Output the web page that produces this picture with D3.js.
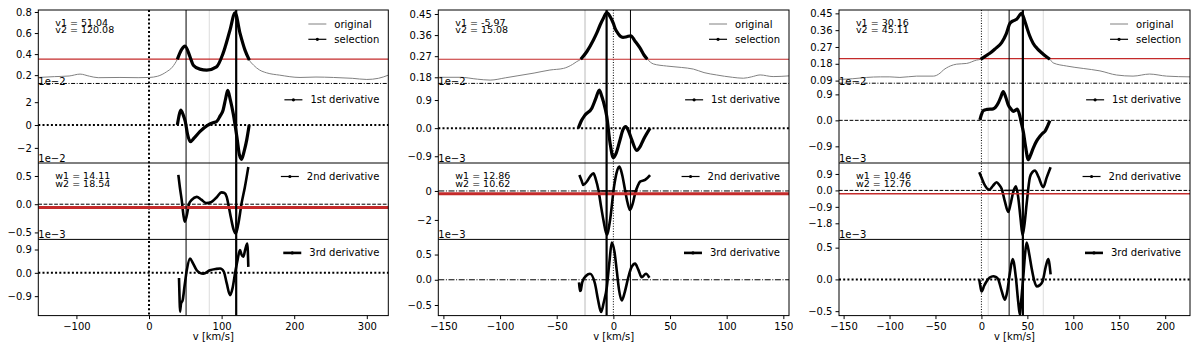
<!DOCTYPE html>
<html lang="en">
<head>
<meta charset="utf-8">
<title>Line derivatives</title>
<script type="text/javascript" src="https://d3js.org/d3.v7.min.js"></script>
<style>
body { margin: 0; background: #fff; }
text { font-family: "DejaVu Sans", sans-serif; fill: #000; }
.tick text { font-size: 10px; }
.domain { display: none; }
.tick line { stroke: #000; }
.legend { font-size: 10px; }
.note { font-size: 9.5px; }
</style>
</head>
<body>
<div id="container"></div>
<script type="text/javascript">
// ---- data (values of derivatives in units of their offset) ----
var p1V1 = 51.04, p1V2 = 120.08, p1W1 = 14.11, p1W2 = 18.54;
var p2V1 = -5.97, p2V2 = 15.08, p2W1 = 12.86, p2W2 = 10.62;
var p3V1 = 30.16, p3V2 = 45.11, p3W1 = 10.46, p3W2 = 12.76;

var p1Original = [[-152.5,0.178],[-130,0.186],[-110,0.192],[-95,0.21],[-82,0.19],[-70,0.176],[-40,0.178],[-15,0.176],[0,0.178],[12,0.19],[24,0.231],[32,0.275],
  [138.2,0.343],[144,0.295],[152,0.25],[162,0.222],[180,0.2],[208,0.178],[230,0.182],[254,0.178],[280,0.17],[300,0.159],[316,0.17],[329.6,0.2]];
var p1Selection = [[39,0.35],[45,0.445],[49.6,0.476],[56.5,0.374],[61,0.295],[70,0.257],[79.5,0.248],[93,0.279],[102,0.407],[111.6,0.629],[118.5,0.793],[125.4,0.597],[132.2,0.438],[138.2,0.343]];
var p1First = [[39,0],[41,0.7],[43.7,1.3],[47,0.9],[50,0.3],[53,-0.8],[57,-1.45],[62,-1.15],[70,-0.58],[80,-0.05],[88,0.2],[93,0.29],[98,0.8],[102,1.3],[105.5,2.3],[108.4,3.04],[112,2.2],[116,1.0],[121.6,-1.3],[124.5,-2.6],[127.5,-3.0],[131,-2.3],[134.6,-1.3],[138,0]];
var p1Second = [[40.4,0.52],[42.5,0.3],[45,0.076],[47.5,-0.2],[49.2,-0.31],[52,-0.2],[55,0.0],[58.8,0.076],[65.7,0.13],[72,0.08],[79,0.02],[86,0.04],[93,0.12],[100,0.21],[104,0.2],[107,0.13],[110,-0.05],[113,-0.25],[116.5,-0.45],[119.6,-0.52],[123,-0.35],[127.6,0.02],[132,0.3],[136.8,0.66]];
var p1Third = [[41.3,-0.2],[42,-0.9],[42.7,-1.5],[44,-1.2],[46.4,-1.05],[49,-0.5],[52,0.1],[56.5,0.55],[60,0.4],[65.7,0.1],[70,0.0],[74.8,-0.03],[84,0.1],[92,0.15],[98,0.17],[103,0.05],[107,-0.4],[111.6,-0.86],[115,-0.6],[118.5,-0.02],[122,0.5],[125.3,0.88],[127.5,0.7],[129.9,0.62],[132.5,0.9],[135.4,1.13],[136.8,0.23]];

var p2Original = [[-154.5,0.18],[-135,0.18],[-120,0.172],[-108.8,0.168],[-95,0.178],[-85,0.186],[-70,0.198],[-56,0.211],[-44,0.218],[-36,0.235],[-32.3,0.247],
  [35.3,0.237],[47,0.228],[60,0.222],[70.6,0.215],[80,0.2],[91,0.19],[105,0.18],[114.7,0.176],[122,0.182],[129.5,0.19],[141,0.183],[155,0.186]];
var p2Selection = [[-28.8,0.257],[-23.5,0.289],[-17.6,0.339],[-14.7,0.368],[-11.7,0.403],[-8.8,0.432],[-5.8,0.456],[-3,0.44],[0,0.41],[1.5,0.389],[3,0.375],[5.9,0.356],[8.5,0.35],[11.8,0.353],[15.4,0.357],[19,0.335],[23.6,0.304],[27,0.275],[30,0.257]];
var p2First = [[-30.9,0],[-28,0.25],[-25,0.42],[-19,0.64],[-15.5,0.95],[-12.4,1.22],[-10.5,1.05],[-8.8,0.85],[-5.8,0.37],[-2.9,-0.48],[0,-0.95],[2.5,-0.8],[5.9,-0.37],[8.5,-0.05],[10.9,0.05],[13.5,-0.1],[16.2,-0.37],[20.6,-0.71],[23.5,-0.6],[26.5,-0.37],[32.4,0]];
var p2Second = [[-30,1.1],[-28,0.7],[-26.5,0.41],[-23.5,0.64],[-20.5,1.0],[-17.6,1.22],[-15.5,0.8],[-13.2,0.07],[-11,-1.0],[-8.8,-2.0],[-5.8,-3.03],[-2.9,-2.0],[0.6,0.3],[3,1.3],[5.3,1.68],[7.8,1.1],[10.3,0.07],[12.5,-0.8],[14.7,-1.31],[17,-0.9],[19.2,-0.16],[21.5,0.35],[23.6,0.64],[28,0.76],[32.4,1.1]];
var p2Third = [[-30.3,-0.05],[-29.5,-0.22],[-28.8,-0.21],[-27.5,-0.05],[-24,0.08],[-20.6,0.12],[-16.2,-0.08],[-13.5,-0.4],[-10.9,-0.64],[-8.5,-0.45],[-5.8,-0.15],[-3.5,0.35],[-1.4,0.74],[1,0.55],[3,0.18],[5,-0.2],[7.4,-0.41],[10,-0.25],[13.2,0.05],[16,0.25],[19.2,0.32],[22,0.2],[25,0.05],[28.8,0.12],[31.8,0.04]];

var p3Original = [[-155,0.096],[-140,0.1],[-125,0.107],[-110,0.11],[-99.6,0.11],[-88.7,0.107],[-70.5,0.114],[-52.4,0.114],[-45,0.13],[-41.5,0.146],[-34,0.168],[-27,0.178],[-16,0.182],[-5.2,0.2],
  [78,0.185],[92.7,0.168],[110.8,0.155],[129,0.142],[147,0.12],[165,0.114],[183,0.125],[201.5,0.114],[227,0.11]];
var p3Selection = [[-0.9,0.204],[4,0.22],[9.2,0.236],[15,0.26],[22,0.293],[27,0.34],[31,0.396],[34.5,0.41],[38.3,0.418],[43.7,0.45],[46.5,0.42],[49.2,0.378],[52.5,0.33],[56.4,0.289],[61,0.26],[65.5,0.239],[70,0.22],[74.5,0.204]];
var p3First = [[-1.6,0.02],[0,0.2],[2,0.34],[6,0.38],[12.8,0.4],[18.3,0.6],[21,0.8],[23.7,1.0],[26.5,0.8],[29.2,0.54],[32,0.4],[34.6,0.31],[37,0.35],[39,0.39],[41.9,0.14],[43.5,-0.1],[45.5,-0.38],[48,-0.9],[51,-1.36],[53.5,-1.2],[56.4,-0.96],[60,-0.72],[63.7,-0.55],[66.5,-0.45],[69.1,-0.38],[72,-0.2],[74.5,-0.01]];
var p3Second = [[-2.4,1.0],[0.5,0.65],[3.8,0.27],[8.5,0.04],[12.5,0.25],[16.5,0.45],[19.5,0.3],[22,0.09],[25.5,-0.6],[29.2,-1.18],[31.5,-0.8],[34.6,-0.09],[37.5,0.22],[40,-0.36],[42.5,-1.5],[44.8,-2.45],[47,-1.8],[49.2,-0.73],[52.8,0.73],[55.5,1.0],[58.2,1.09],[62,0.75],[67.3,0.18],[71,0.7],[75.3,1.27]];
var p3Third = [[-2.4,0],[-1,-0.12],[0.2,-0.19],[3,-0.1],[5.7,-0.03],[9,0.03],[12.9,0.05],[15.5,0.04],[18.3,0],[22,-0.18],[25.6,-0.32],[28,-0.2],[31,0.1],[34,0.32],[37.5,0.03],[40,-0.35],[41.9,-0.56],[43.5,-0.3],[45.5,0.03],[47.5,0.4],[49.2,0.58],[52,0.4],[54.6,0.18],[57.5,-0.02],[60.1,-0.11],[63.5,-0.09],[66.6,-0.03],[70,0.2],[72.7,0.32],[75.3,0.08]];

// thresholds, guide lines
var p1Red = [0.352, -0.06], p2Red = [0.257, -0.19], p3Red = [0.208, -0.18];
var p1Grey = [83], p2Grey = [-25], p3Grey = [7.4, 67.3];
var topGuide = [0.121, 0.154, 0.076];

// tick values and offsets
var p1XTicks = [-100, 0, 100, 200, 300];
var p2XTicks = [-150, -100, -50, 0, 50, 100, 150];
var p3XTicks = [-150, -100, -50, 0, 50, 100, 150, 200];
var p1YTicks = [[0.2,0.4,0.6,0.8], [-2,0,2], [-0.5,0,0.5], [-0.9,0,0.9]];
var p2YTicks = [[0.18,0.27,0.36,0.45], [-0.9,0,0.9], [-2,0], [-0.5,0,0.5]];
var p3YTicks = [[0.09,0.18,0.27,0.36,0.45], [-0.9,0,0.9], [-1.8,-0.9,0,0.9], [-0.5,0,0.5]];
var p1Offsets = ["1e\u22122", "1e\u22122", "1e\u22123"];
var p2Offsets = ["1e\u22122", "1e\u22123", "1e\u22123"];
var p3Offsets = ["1e\u22122", "1e\u22123", "1e\u22123"];
var legendNames = ["1st derivative", "2nd derivative", "3rd derivative"];

// ---- layout ----
var w = 1200, h = 349;
var rowTop = [10, 86.3, 163, 239.4];
var rowH = 76.2;

var panels = [
  {left: 38.3, right: 388.3, xdom: [-152.5, 329.6], xticks: p1XTicks,
   ydom: [[0.095, 0.819], [-3.28, 3.39], [-0.62, 0.73], [-1.65, 1.29]],
   yticks: p1YTicks, yfmt: [".1f", "d", ".1f", ".1f"], offsets: p1Offsets,
   orig: p1Original, sel: p1Selection, der: [p1First, p1Second, p1Third],
   v1: p1V1, v2: p1V2, w1: p1W1, w2: p1W2, thickV: 2, red: p1Red, redW: 3, grey: p1Grey,
   zeroStyle: ["dot", "dash", "dot"], vzero: "dot", widthBars: false},
  {left: 438.3, right: 789, xdom: [-154.5, 155], xticks: p2XTicks,
   ydom: [[0.142, 0.467], [-1.10, 1.34], [-3.33, 1.93], [-0.71, 0.80]],
   yticks: p2YTicks, yfmt: [".2f", ".1f", "d", ".1f"], offsets: p2Offsets,
   orig: p2Original, sel: p2Selection, der: [p2First, p2Second, p2Third],
   v1: p2V1, v2: p2V2, w1: p2W1, w2: p2W2, thickV: 1, red: p2Red, redW: 3, grey: p2Grey,
   zeroStyle: ["dot", "dashdot", "dashdot"], vzero: "thin", widthBars: true},
  {left: 839, right: 1190, xdom: [-155, 227], xticks: p3XTicks,
   ydom: [[0.06, 0.468], [-1.46, 1.18], [-2.67, 1.5], [-0.57, 0.63]],
   yticks: p3YTicks, yfmt: [".2f", ".1f", ".1f", ".1f"], offsets: p3Offsets,
   orig: p3Original, sel: p3Selection, der: [p3First, p3Second, p3Third],
   v1: p3V1, v2: p3V2, w1: p3W1, w2: p3W2, thickV: 2, red: p3Red, redW: 1.4, grey: p3Grey,
   zeroStyle: ["dash", "dash", "dot"], vzero: "thin", widthBars: true}
];

var dashes = {
  dot: {w: 2, d: "2,2.2"},
  dash: {w: 1, d: "3.7,1.6"},
  dashdot: {w: 1, d: "6,1.6,1,1.6"},
  thin: {w: 1, d: "1,1.6"}
};

var svg = d3.select("div#container").append("svg")
  .attr("width", w).attr("height", h)
  .attr("viewBox", "0 0 " + w + " " + h);
var defs = svg.append("defs");

panels.forEach(function(p, pi) {
  var g = svg.append("g");
  var x = d3.scaleLinear().domain(p.xdom).range([p.left, p.right]);
  var ys = p.ydom.map(function(dom, r) {
    return d3.scaleLinear().domain(dom).range([rowTop[r] + rowH, rowTop[r]]);
  });
  var bottom = rowTop[3] + rowH;

  // clip per row
  rowTop.forEach(function(t, r) {
    defs.append("clipPath").attr("id", "c" + pi + r)
      .append("rect").attr("x", p.left).attr("y", t).attr("width", p.right - p.left).attr("height", rowH);
  });

  // grey marker lines
  g.selectAll(".grey").data(p.grey).enter().append("line")
    .attr("x1", function(d) { return x(d); }).attr("x2", function(d) { return x(d); })
    .attr("y1", rowTop[0]).attr("y2", bottom)
    .attr("stroke", "#dcdcdc").attr("stroke-width", pi == 1 ? 2 : 1);

  // top guide line
  g.append("line").attr("x1", p.left).attr("x2", p.right)
    .attr("y1", ys[0](topGuide[pi])).attr("y2", ys[0](topGuide[pi]))
    .attr("stroke", "#000").attr("stroke-width", 1).attr("stroke-dasharray", "4,1.6,1,1.6");

  // zero lines rows 2-4
  [1, 2, 3].forEach(function(r) {
    var st = dashes[p.zeroStyle[r - 1]];
    g.append("line").attr("x1", p.left).attr("x2", p.right)
      .attr("y1", ys[r](0)).attr("y2", ys[r](0))
      .attr("stroke", "#000").attr("stroke-width", st.w).attr("stroke-dasharray", st.d);
  });

  // vertical zero line
  var vz = dashes[p.vzero];
  g.append("line").attr("x1", x(0)).attr("x2", x(0)).attr("y1", rowTop[0]).attr("y2", bottom)
    .attr("stroke", "#000").attr("stroke-width", vz.w).attr("stroke-dasharray", vz.d);

  // original spectrum
  var full = p.orig.concat(p.sel).sort(function(a, b) { return a[0] - b[0]; });
  var line0 = d3.line().x(function(d) { return x(d[0]); }).y(function(d) { return ys[0](d[1]); }).curve(d3.curveMonotoneX);
  g.append("path").datum(full).attr("d", line0)
    .attr("fill", "none").attr("stroke", "#808080").attr("stroke-width", 1)
    .attr("clip-path", "url(#c" + pi + "0)");

  // red threshold in row 1
  g.append("line").attr("x1", p.left).attr("x2", p.right)
    .attr("y1", ys[0](p.red[0])).attr("y2", ys[0](p.red[0]))
    .attr("stroke", "#c42a2a").attr("stroke-width", 1.2);

  g.append("path").datum(p.sel).attr("d", line0)
    .attr("fill", "none").attr("stroke", "#000").attr("stroke-width", 3.2)
    .attr("clip-path", "url(#c" + pi + "0)");

  // derivatives
  p.der.forEach(function(data, k) {
    var r = k + 1;
    var ln = d3.line().x(function(d) { return x(d[0]); }).y(function(d) { return ys[r](d[1]); }).curve(d3.curveMonotoneX);
    g.append("path").datum(data).attr("d", ln)
      .attr("fill", "none").attr("stroke", "#000").attr("stroke-width", k == 0 ? 3.2 : 2.6)
      .attr("stroke-linejoin", "round").attr("clip-path", "url(#c" + pi + r + ")");
  });

  // width bars at zero of 2nd derivative
  if (p.widthBars) {
    [[p.v1, p.w1], [p.v2, p.w2]].forEach(function(b) {
      g.append("line").attr("x1", x(b[0] - b[1] / 2)).attr("x2", x(b[0] + b[1] / 2))
        .attr("y1", ys[2](0)).attr("y2", ys[2](0))
        .attr("stroke", "#000").attr("stroke-width", 1.5);
    });
  }

  // red threshold in row 3
  g.append("line").attr("x1", p.left).attr("x2", p.right)
    .attr("y1", ys[2](p.red[1])).attr("y2", ys[2](p.red[1]))
    .attr("stroke", "#c42a2a").attr("stroke-width", p.redW);

  // v1 / v2 lines
  g.append("line").attr("x1", x(p.v1)).attr("x2", x(p.v1)).attr("y1", rowTop[0]).attr("y2", bottom)
    .attr("stroke", "#000").attr("stroke-width", p.thickV == 1 ? 2.2 : 1);
  g.append("line").attr("x1", x(p.v2)).attr("x2", x(p.v2)).attr("y1", rowTop[0]).attr("y2", bottom)
    .attr("stroke", "#000").attr("stroke-width", p.thickV == 2 ? 2.2 : 1);

  // frames: outer box and row separators (none between row 1 and 2)
  g.append("rect").attr("x", p.left).attr("y", rowTop[0]).attr("width", p.right - p.left).attr("height", bottom - rowTop[0])
    .attr("fill", "none").attr("stroke", "#000").attr("stroke-width", 1);
  [2, 3].forEach(function(r) {
    g.append("line").attr("x1", p.left).attr("x2", p.right).attr("y1", rowTop[r]).attr("y2", rowTop[r])
      .attr("stroke", "#000").attr("stroke-width", 1);
  });

  // y axes
  ys.forEach(function(y, r) {
    g.append("g").attr("transform", "translate(" + p.left + ",0)")
      .call(d3.axisLeft(y).tickValues(p.yticks[r]).tickFormat(d3.format(p.yfmt[r])).tickSize(3.5).tickPadding(3));
  });
  // x axis
  g.append("g").attr("transform", "translate(0," + bottom + ")")
    .call(d3.axisBottom(x).tickValues(p.xticks).tickFormat(d3.format("d")).tickSize(3.5).tickPadding(3.5));
  g.append("text").attr("x", (p.left + p.right) / 2).attr("y", 340)
    .attr("text-anchor", "middle").style("font-size", "10px").text("v [km/s]");

  // offset labels
  p.offsets.forEach(function(t, k) {
    g.append("text").attr("x", p.left).attr("y", rowTop[k + 1] - 1.5)
      .style("font-size", "10px").text(t);
  });

  // annotations
  g.append("text").attr("class", "note").attr("x", p.left + 17).attr("y", rowTop[0] + 15.5).text("v1 = " + p.v1.toFixed(2));
  g.append("text").attr("class", "note").attr("x", p.left + 17).attr("y", rowTop[0] + 23).text("v2 = " + p.v2.toFixed(2));
  g.append("text").attr("class", "note").attr("x", p.left + 17).attr("y", rowTop[2] + 16).text("w1 = " + p.w1.toFixed(2));
  g.append("text").attr("class", "note").attr("x", p.left + 17).attr("y", rowTop[2] + 23.5).text("w2 = " + p.w2.toFixed(2));

  // legends
  function legendEntry(txtX, cy, label, color, lw, marker) {
    g.append("line").attr("x1", txtX - 26).attr("x2", txtX - 8).attr("y1", cy).attr("y2", cy)
      .attr("stroke", color).attr("stroke-width", lw);
    if (marker) {
      g.append("circle").attr("cx", txtX - 17).attr("cy", cy).attr("r", 1.6).attr("fill", color);
    }
    g.append("text").attr("class", "legend").attr("x", txtX).attr("y", cy).attr("dy", "0.35em").text(label);
  }
  var probe = g.append("text").attr("class", "legend").text("selection");
  var selW = probe.node().getComputedTextLength();
  probe.remove();
  var lx = p.right - 9 - selW;
  legendEntry(lx, rowTop[0] + 14, "original", "#808080", 1, false);
  legendEntry(lx, rowTop[0] + 29.3, "selection", "#000", 1.2, true);
  legendNames.forEach(function(name, k) {
    var pr = g.append("text").attr("class", "legend").text(name);
    var tw = pr.node().getComputedTextLength();
    pr.remove();
    legendEntry(p.right - 9 - tw, rowTop[k + 1] + 13.5, name, "#000", k == 2 ? 2.6 : 1.2, true);
  });
});
</script>
</body>
</html>
